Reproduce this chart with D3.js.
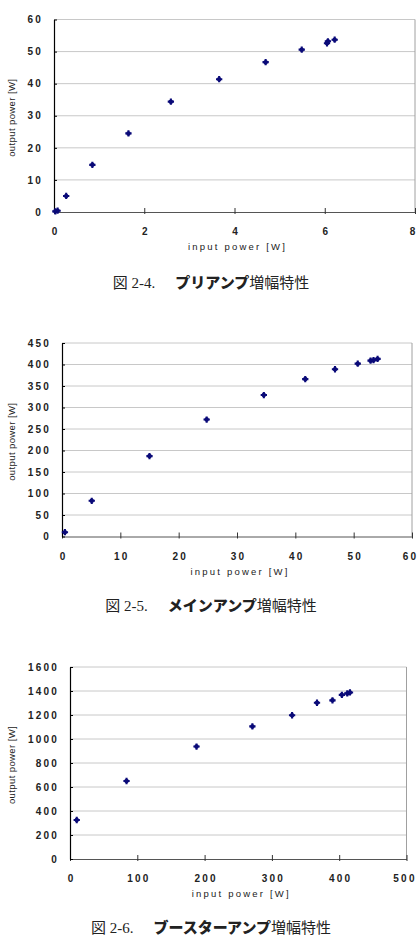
<!DOCTYPE html>
<html>
<head>
<meta charset="utf-8">
<script src="https://cdn.jsdelivr.net/npm/d3@7"></script>
<style>
  body { margin: 0; background: #fff; }
  svg { display: block; }
  .tick text { font-family: "Liberation Sans", Arial, sans-serif; font-size: 10px; letter-spacing: 2.2px; fill: #222; font-weight: bold; }
  .xtitle { font-family: "Liberation Sans", Arial, sans-serif; font-size: 9.5px; letter-spacing: 2.2px; fill: #222; }
  .ytitle { font-family: "Liberation Sans", Arial, sans-serif; font-size: 9.5px; letter-spacing: 0.4px; fill: #222; }
  .cap { font-family: "Liberation Serif", "Noto Sans CJK JP", serif; font-size: 15px; fill: #222; }
</style>
</head>
<body>
<svg id="svg1"></svg>
<script>
// pre-amp (図 2-4)
let preIn  = [0.03, 0.08, 0.27, 0.85, 1.65, 2.59, 3.66, 4.69, 5.49, 6.05, 6.07, 6.22];
let preOut = [0.2, 0.4, 5.0, 14.7, 24.5, 34.4, 41.4, 46.7, 50.6, 52.6, 53.2, 53.7];
let preXTicks = [0, 2, 4, 6, 8];
let preYTicks = [0, 10, 20, 30, 40, 50, 60];

// main amp (図 2-5)
let mainIn  = [0.5, 5.1, 15.0, 24.8, 34.6, 41.7, 46.8, 50.7, 52.9, 53.4, 54.1];
let mainOut = [10, 83, 187, 272, 329, 366, 389, 402, 409, 410, 413];
let mainXTicks = [0, 10, 20, 30, 40, 50, 60];
let mainYTicks = [0, 50, 100, 150, 200, 250, 300, 350, 400, 450];

// booster amp (図 2-6)
let boostIn  = [10, 84, 188, 271, 330, 367, 390, 404, 412, 416];
let boostOut = [325, 650, 937, 1105, 1198, 1302, 1322, 1368, 1380, 1388];
let boostXTicks = [0, 100, 200, 300, 400, 500];
let boostYTicks = [0, 200, 400, 600, 800, 1000, 1200, 1400, 1600];

let captions = [
  {num: "図 2-4.", bold: "プリアンプ", rest: "増幅特性"},
  {num: "図 2-5.", bold: "メインアンプ", rest: "増幅特性"},
  {num: "図 2-6.", bold: "ブースターアンプ", rest: "増幅特性"}
];

const svg = d3.select('#svg1').attr('width', 417).attr('height', 936);

function drawChart(opt) {
  let x = d3.scaleLinear().domain(d3.extent(opt.xTicks)).range([opt.left, opt.right]);
  let y = d3.scaleLinear().domain(d3.extent(opt.yTicks)).range([opt.bottom, opt.top]);
  let g = svg.append('g');

  // grid
  g.append('g').selectAll('line')
    .data(opt.yTicks.slice(1))
    .enter().append('line')
    .attr('x1', opt.left).attr('x2', opt.right)
    .attr('y1', d => y(d)).attr('y2', d => y(d))
    .attr('stroke', '#c8c8c8').attr('stroke-width', 1);

  // right border
  g.append('line')
    .attr('x1', opt.right).attr('x2', opt.right)
    .attr('y1', opt.top).attr('y2', opt.bottom)
    .attr('stroke', '#a0a0a0');

  let xAxis = g => g
    .attr("transform", `translate(0,${opt.bottom})`)
    .call(d3.axisBottom(x).tickValues(opt.xTicks).tickFormat(d3.format('d'))
      .tickSizeInner(-4).tickSizeOuter(0).tickPadding(16))
    .call(g => g.select(".domain").attr('stroke', '#555'))
    .call(g => g.selectAll(".tick line").attr('stroke', '#333').attr('y1', 2))
    .call(g => g.selectAll(".tick text").attr('dx', 1))
    .call(g => g.select(".tick:last-of-type text").attr('dx', -2));

  let yAxis = g => g
    .attr("transform", `translate(${opt.left},0)`)
    .call(d3.axisLeft(y).tickValues(opt.yTicks).tickFormat(d3.format('d'))
      .tickSizeInner(-3).tickSizeOuter(0).tickPadding(11))
    .call(g => g.select(".domain").attr('stroke', '#000').attr('stroke-width', 1.2))
    .call(g => g.selectAll(".tick line").attr('stroke', '#000'));

  g.append('g').call(xAxis);
  g.append('g').call(yAxis);

  // points: small four-point blobs
  let pts = g.append('g').selectAll('g')
    .data(opt.xs.map((d, i) => [d, opt.ys[i]]))
    .enter().append('g')
    .attr('transform', d => `translate(${x(d[0])},${y(d[1])})`)
    .attr('fill', '#0a0a78');
  pts.append('path').attr('d', d3.symbol().type(d3.symbolCircle).size(16));
  pts.append('path').attr('d', d3.symbol().type(d3.symbolCross).size(22));

  g.append('text').attr('class', 'xtitle')
    .attr('x', (opt.left + opt.right) / 2 + 3).attr('y', opt.bottom + 38)
    .attr('text-anchor', 'middle')
    .text('input power [W]');

  g.append('text').attr('class', 'ytitle')
    .attr('transform', `translate(15,${(opt.top + opt.bottom) / 2 + 2}) rotate(-90)`)
    .attr('text-anchor', 'middle')
    .text('output power [W]');

  let c = g.append('text').attr('class', 'cap')
    .attr('x', 211).attr('y', opt.capY)
    .attr('text-anchor', 'middle');
  c.append('tspan').text(opt.cap.num);
  c.append('tspan').attr('dx', 20)
    .style('font-family', '"Noto Sans CJK JP", sans-serif')
    .style('font-weight', '900').text(opt.cap.bold);
  c.append('tspan')
    .style('font-family', '"Noto Sans CJK JP", sans-serif')
    .style('font-weight', '400').text(opt.cap.rest);
}

drawChart({xs: preIn, ys: preOut, xTicks: preXTicks, yTicks: preYTicks,
  left: 54, right: 415, top: 19.5, bottom: 212, capY: 288, cap: captions[0]});
drawChart({xs: mainIn, ys: mainOut, xTicks: mainXTicks, yTicks: mainYTicks,
  left: 62, right: 412, top: 343, bottom: 536.5, capY: 611, cap: captions[1]});
drawChart({xs: boostIn, ys: boostOut, xTicks: boostXTicks, yTicks: boostYTicks,
  left: 70, right: 406.5, top: 667, bottom: 859, capY: 933, cap: captions[2]});
</script>
</body>
</html>
